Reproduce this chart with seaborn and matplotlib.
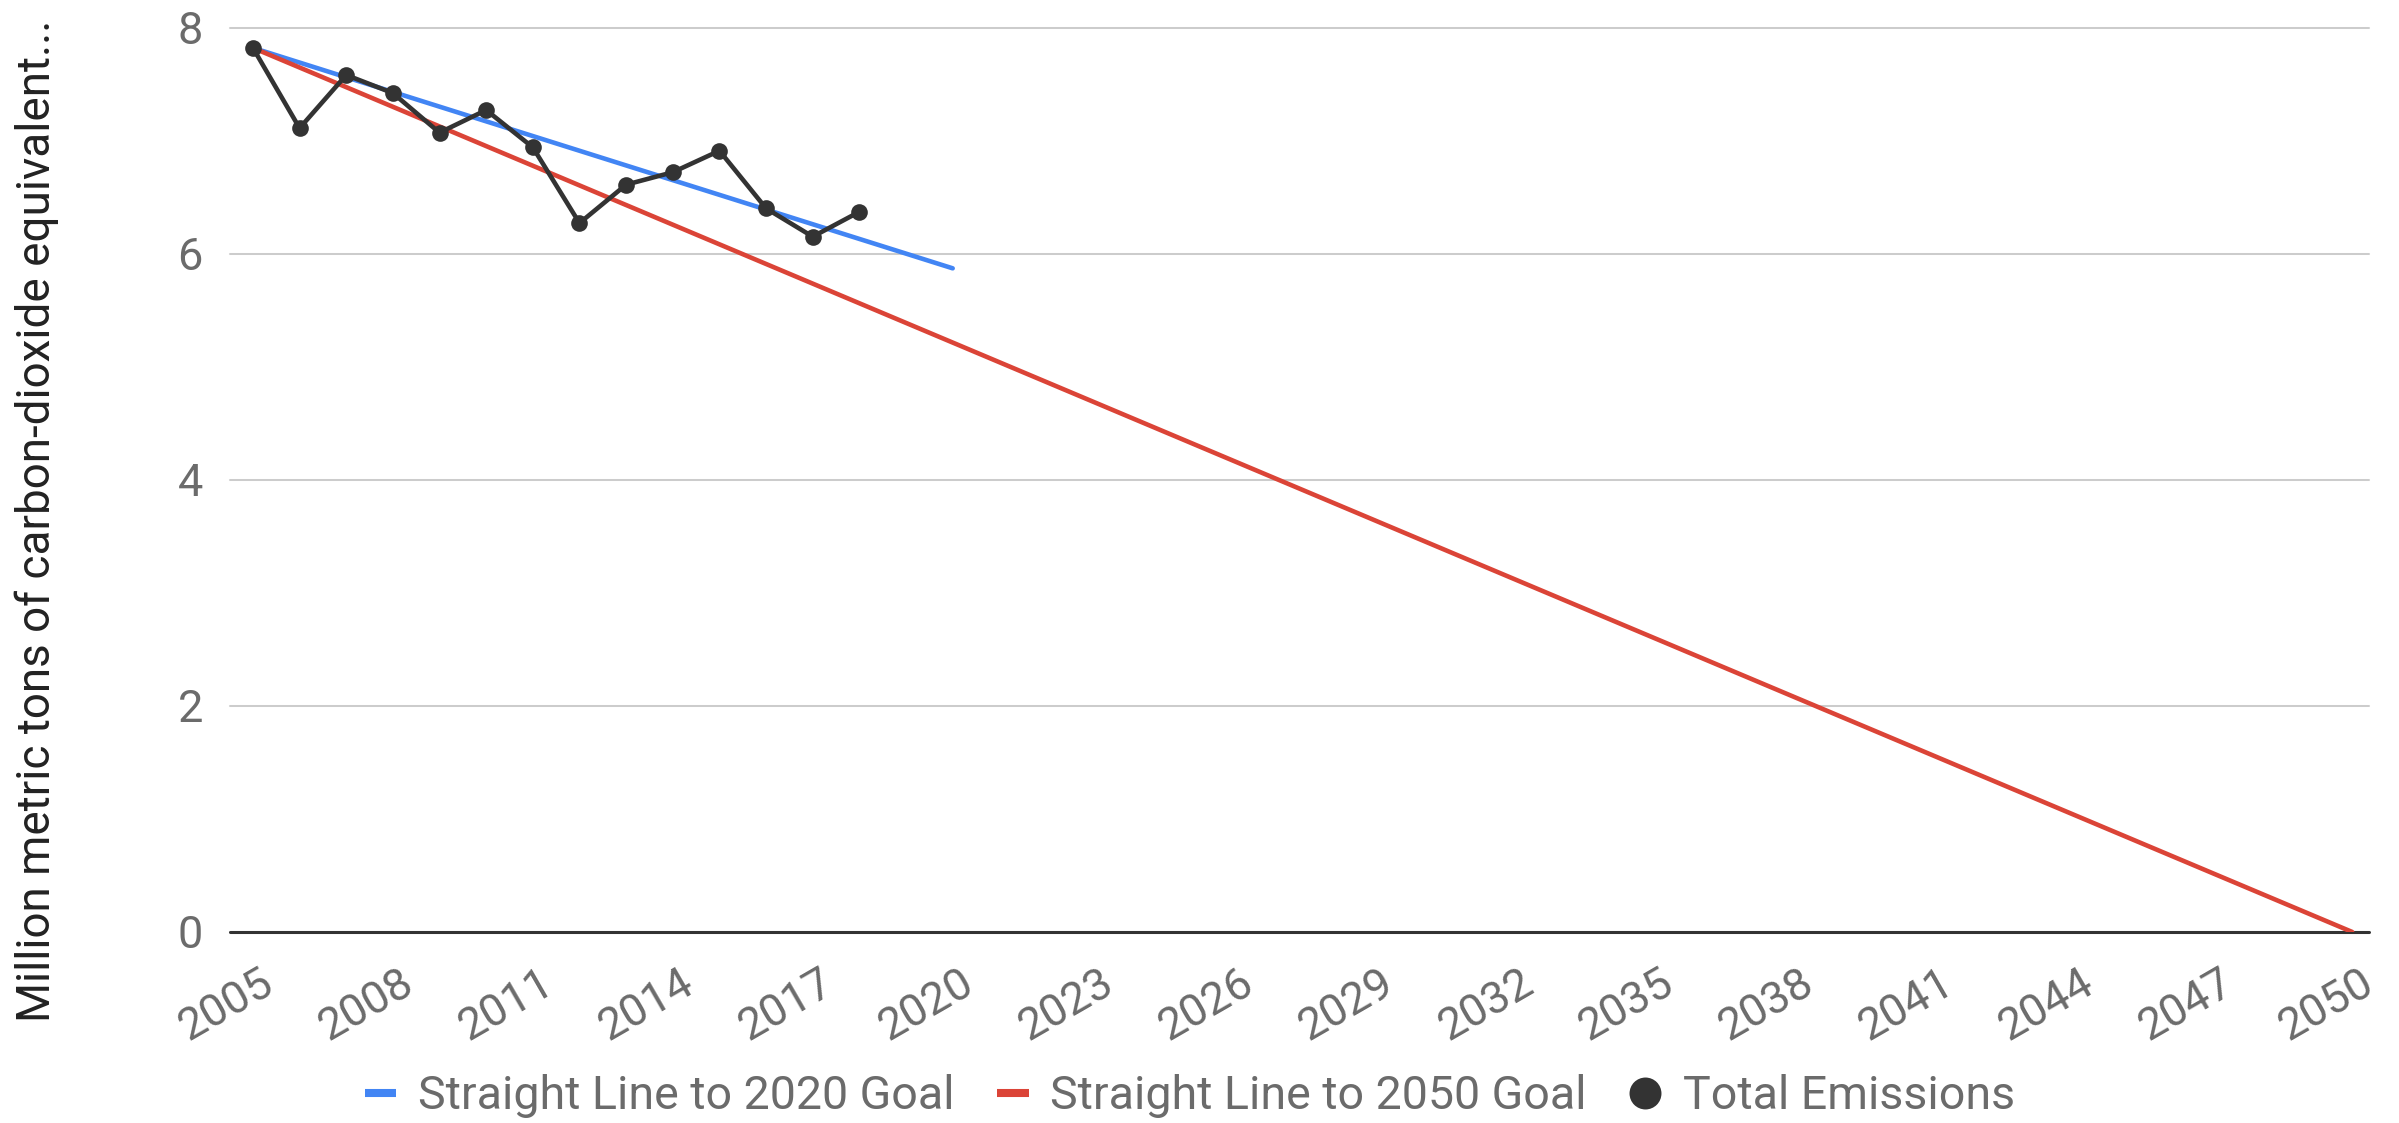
import matplotlib
matplotlib.use("Agg")
import matplotlib.pyplot as plt
from matplotlib.lines import Line2D
from matplotlib.transforms import ScaledTranslation
import pandas as pd
import seaborn as sns

# Annual totals (million metric tons CO2e)
years = [2005, 2006, 2007, 2008, 2009, 2010, 2011, 2012, 2013, 2014, 2015, 2016, 2017, 2018]
total_emissions = [7.82, 7.11, 7.58, 7.42, 7.07, 7.27, 6.94, 6.27, 6.61, 6.72, 6.91, 6.40, 6.15, 6.37]

# Straight-line reduction paths
goal_2020_years = [2005, 2020]
goal_2020_values = [7.82, 5.87]
goal_2050_years = [2005, 2050]
goal_2050_values = [7.82, 0.0]

x_ticks = list(range(2005, 2051, 3))
y_ticks = [0, 2, 4, 6, 8]

series_names = ["Straight Line to 2020 Goal", "Straight Line to 2050 Goal", "Total Emissions"]
series_colors = ["#4285F4", "#DB4437", "#333333"]
y_title = "Million metric tons of carbon-dioxide equivalent..."

sns.set_theme(style="white")
plt.rcParams["font.family"] = ["Roboto", "DejaVu Sans"]

DPI = 100
fig = plt.figure(figsize=(23.99, 11.23), dpi=DPI)
ax = fig.add_axes([0.0959, 0.1701, 0.9875 - 0.0959, 0.9755 - 0.1701])

df_2020 = pd.DataFrame({"year": goal_2020_years, "value": goal_2020_values})
df_2050 = pd.DataFrame({"year": goal_2050_years, "value": goal_2050_values})
df_tot = pd.DataFrame({"year": years, "value": total_emissions})

lw = 3.3
sns.lineplot(data=df_2020, x="year", y="value", ax=ax, color=series_colors[0],
             linewidth=lw, zorder=3)
sns.lineplot(data=df_2050, x="year", y="value", ax=ax, color=series_colors[1],
             linewidth=lw, zorder=3)
sns.lineplot(data=df_tot, x="year", y="value", ax=ax, color=series_colors[2],
             linewidth=lw, marker="o", markersize=12, markeredgewidth=0, zorder=4)

ax.set_xlim(2004.51, 2050.36)
ax.set_ylim(0, 8)
ax.set_xlabel("")
ax.set_ylabel("")

for s in ax.spines.values():
    s.set_visible(False)

# horizontal grid, baseline drawn darker
ax.set_yticks(y_ticks)
ax.yaxis.grid(True, color="#cccccc", linewidth=1.45)
ax.xaxis.grid(False)
for gl in ax.get_ygridlines():
    gl.set_clip_on(False)
ax.axhline(0, color="#333333", linewidth=2.2, zorder=2, clip_on=False)

label_color = "#6b6b6b"
fs = 32.5
ax.tick_params(axis="both", length=0)
ax.tick_params(axis="y", pad=19.5, labelsize=fs, labelcolor=label_color)
ax.set_yticklabels([str(v) for v in y_ticks])

ax.set_xticks(x_ticks)
ax.set_xticklabels([str(v) for v in x_ticks], rotation=30, ha="right",
                   va="baseline", rotation_mode="anchor")
ax.tick_params(axis="x", pad=58 * 72 / DPI, labelsize=fs, labelcolor=label_color)
shift = ScaledTranslation(24 / DPI, 0, fig.dpi_scale_trans)
for lab in ax.get_xticklabels():
    lab.set_transform(lab.get_transform() + shift)

fig.text(50 / 2399, 1 - 1022 / 1123, y_title, rotation=90, rotation_mode="anchor",
         ha="left", va="baseline", fontsize=33, color="#222222")

leg_fs = 33.5
handles = [
    Line2D([0], [0], color=series_colors[0], linewidth=5.8, solid_capstyle="butt"),
    Line2D([0], [0], color=series_colors[1], linewidth=5.8, solid_capstyle="butt"),
    Line2D([0], [0], color=series_colors[2], linestyle="none", marker="o",
           markersize=23, markeredgewidth=0),
]
leg = fig.legend(handles, series_names, loc="center", bbox_to_anchor=(1190 / 2399, 1 - 1096 / 1123),
                 ncol=3, frameon=False, fontsize=leg_fs, handlelength=0.67,
                 handletextpad=0.47, columnspacing=0.92, labelcolor=label_color)

fig.savefig("out.png", dpi=DPI)
